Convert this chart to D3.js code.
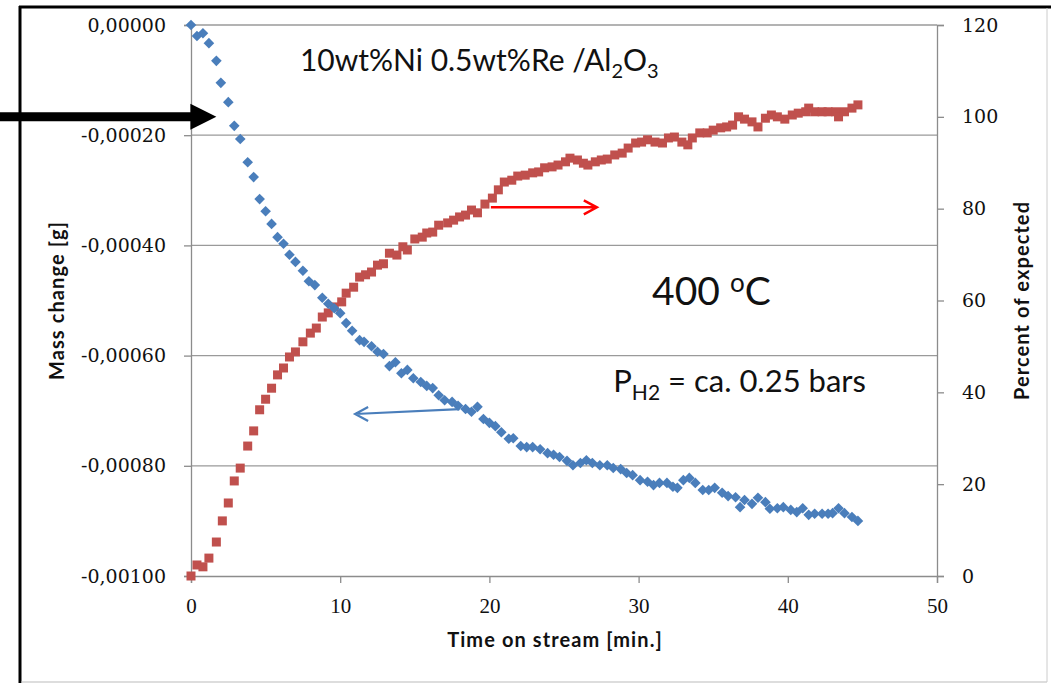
<!DOCTYPE html>
<html>
<head>
<meta charset="utf-8">
<script src="https://cdn.jsdelivr.net/npm/d3@7"></script>
<style>
  html, body { margin: 0; padding: 0; background: #fff; }
  svg { display: block; }
</style>
</head>
<body>
<div id="chart"></div>
<script>
// Mass change (left axis, g) – blue diamonds
const massTime = [0.0, 0.4, 0.8, 1.2, 1.7, 2.0, 2.5, 2.9, 3.3, 3.8, 4.2, 4.6, 5.0, 5.4, 5.8, 6.2, 6.6, 7.0, 7.5, 7.9,
  8.3, 8.8, 9.2, 9.6, 10.0, 10.4, 10.8, 11.3, 11.6, 12.1, 12.5, 12.9, 13.3, 13.7, 14.1, 14.5, 14.9, 15.4, 15.8, 16.2,
  16.6, 17.0, 17.5, 17.9, 18.4, 18.8, 19.2, 19.6, 20.0, 20.4, 20.8, 21.3, 21.6, 22.1, 22.5, 22.9, 23.4, 23.9, 24.3, 24.7,
  25.2, 25.6, 26.1, 26.5, 26.9, 27.4, 27.9, 28.3, 28.8, 29.2, 29.6, 30.1, 30.6, 31.0, 31.4, 31.9, 32.3, 32.6, 33.0, 33.4,
  33.8, 34.3, 34.7, 35.1, 35.6, 36.0, 36.5, 36.8, 37.1, 37.6, 38.0, 38.5, 38.8, 39.3, 39.7, 40.2, 40.6, 41.0, 41.4, 41.8,
  42.3, 42.7, 43.0, 43.4, 43.8, 44.3, 44.7]
const massValues = [0, -0.000020, -0.000015, -0.000033, -0.000065, -0.000105, -0.000140, -0.000183, -0.000207, -0.000249,
  -0.000276, -0.000316, -0.000338, -0.000361, -0.000385, -0.000397, -0.000417, -0.000430, -0.000446, -0.000465,
  -0.000472, -0.000495, -0.000506, -0.000514, -0.000523, -0.000541, -0.000555, -0.000572, -0.000575, -0.000583,
  -0.000593, -0.000597, -0.000619, -0.000612, -0.000632, -0.000626, -0.000641, -0.000648, -0.000655, -0.000659,
  -0.000672, -0.000681, -0.000684, -0.000691, -0.000697, -0.000702, -0.000693, -0.000715, -0.000722, -0.000728,
  -0.000739, -0.000751, -0.000750, -0.000764, -0.000766, -0.000766, -0.000770, -0.000777, -0.000780, -0.000784,
  -0.000791, -0.000799, -0.000795, -0.000790, -0.000795, -0.000799, -0.000799, -0.000804, -0.000806, -0.000813,
  -0.000817, -0.000826, -0.000829, -0.000835, -0.000831, -0.000831, -0.000838, -0.000840, -0.000826, -0.000822,
  -0.000831, -0.000844, -0.000844, -0.000840, -0.000849, -0.000855, -0.000857, -0.000875, -0.000862, -0.000869,
  -0.000858, -0.000866, -0.000878, -0.000877, -0.000875, -0.000880, -0.000884, -0.000877, -0.000889, -0.000887,
  -0.000887, -0.000887, -0.000886, -0.000877, -0.000886, -0.000893, -0.000900]

// Percent of expected (right axis) – red squares
const pctTime = [0.0, 0.4, 0.8, 1.2, 1.7, 2.1, 2.5, 2.9, 3.3, 3.8, 4.2, 4.6, 5.0, 5.4, 5.8, 6.2, 6.6, 7.0, 7.5, 8.0,
  8.4, 8.8, 9.2, 9.6, 10.1, 10.4, 10.9, 11.3, 11.7, 12.1, 12.5, 12.9, 13.3, 13.8, 14.2, 14.5, 15.0, 15.5, 15.8, 16.2,
  16.6, 17.2, 17.6, 18.0, 18.4, 18.8, 19.2, 19.7, 20.2, 20.6, 21.0, 21.5, 21.9, 22.4, 22.9, 23.3, 23.7, 24.2, 24.6, 25.1,
  25.4, 25.9, 26.3, 26.6, 27.1, 27.5, 27.9, 28.4, 28.9, 29.3, 29.8, 30.2, 30.6, 31.1, 31.6, 32.0, 32.4, 32.9, 33.3, 33.6,
  34.1, 34.6, 35.0, 35.5, 35.9, 36.3, 36.7, 37.1, 37.6, 38.0, 38.5, 38.9, 39.3, 39.8, 40.3, 40.7, 41.2, 41.4, 41.8, 42.3,
  42.7, 43.2, 43.4, 43.8, 44.3, 44.7]
const pctValues = [0.0, 2.4, 2.0, 3.9, 7.4, 12.0, 15.9, 20.7, 23.5, 28.3, 31.6, 36.2, 38.5, 40.9, 43.8, 45.3, 47.7, 48.8, 51.0, 52.9,
  54.0, 56.4, 57.3, 58.6, 59.7, 61.6, 62.9, 65.1, 65.6, 66.2, 67.7, 68.0, 70.3, 69.9, 71.7, 71.0, 73.4, 73.8, 74.7, 74.9,
  76.4, 76.9, 77.5, 78.2, 78.6, 79.7, 79.1, 81.0, 82.3, 84.1, 85.8, 86.2, 87.1, 87.3, 87.8, 88.0, 88.9, 89.1, 89.5, 90.2,
  91.0, 90.6, 89.9, 89.5, 90.2, 90.6, 90.8, 91.7, 92.1, 93.2, 94.3, 94.5, 95.0, 94.5, 94.3, 95.4, 95.6, 94.5, 93.9, 95.4,
  96.5, 96.5, 97.1, 97.6, 97.8, 98.2, 100.0, 99.5, 98.9, 97.8, 99.7, 100.4, 100.0, 99.5, 100.4, 100.8, 101.1, 101.9, 101.1, 101.1,
  101.1, 101.1, 100.0, 101.1, 101.9, 102.6]

const xTicks = [0, 10, 20, 30, 40, 50]
const massTicks = [0, -0.0002, -0.0004, -0.0006, -0.0008, -0.0010]
const pctTicks = [0, 20, 40, 60, 80, 100, 120]

const width = 1051
const height = 683
const margin = { top: 25, right: 114, bottom: 107, left: 191 }
const innerW = width - margin.left - margin.right
const innerH = height - margin.top - margin.bottom

const svg = d3.select("#chart").append("svg")
  .attr("width", width).attr("height", height)

// frame of the screenshot
svg.append("line").attr("x1", 20).attr("x2", 20).attr("y1", 6).attr("y2", height)
  .attr("stroke", "#000").attr("stroke-width", 3)
svg.append("line").attr("x1", 19).attr("x2", width).attr("y1", 7).attr("y2", 7)
  .attr("stroke", "#000").attr("stroke-width", 3)
svg.append("line").attr("x1", 21).attr("x2", 1047).attr("y1", 682).attr("y2", 682)
  .attr("stroke", "#bbb").attr("stroke-width", 1)
svg.append("line").attr("x1", 1047).attr("x2", 1047).attr("y1", 8).attr("y2", 682)
  .attr("stroke", "#ccc").attr("stroke-width", 1)

const g = svg.append("g").attr("transform", `translate(${margin.left},${margin.top})`)

const x = d3.scaleLinear().domain([0, 50]).range([0, innerW])
const yMass = d3.scaleLinear().domain([-0.001, 0]).range([innerH, 0])
const yPct = d3.scaleLinear().domain([0, 120]).range([innerH, 0])

const axisGrey = "#8c8c8c"
const fmtMass = v => d3.format(".5f")(v).replace(".", ",").replace("−", "-")

// gridlines
g.append("g").selectAll("line").data(massTicks.filter(d => d !== -0.001)).join("line")
  .attr("x1", 0).attr("x2", innerW)
  .attr("y1", d => yMass(d)).attr("y2", d => yMass(d))
  .attr("stroke", "#9a9a9a").attr("stroke-width", 1.3)

// left axis
g.append("g")
  .call(d3.axisLeft(yMass).tickValues(massTicks).tickFormat(fmtMass).tickSize(7).tickPadding(18))
  .call(a => a.select(".domain").attr("stroke", axisGrey).attr("stroke-width", 1.3))
  .call(a => a.selectAll(".tick line").attr("stroke", axisGrey).attr("stroke-width", 1.3))
  .call(a => a.selectAll(".tick text").attr("font-family", "'DejaVu Serif', serif")
    .attr("font-size", 19).attr("fill", "#111"))

// right axis
g.append("g").attr("transform", `translate(${innerW},0)`)
  .call(d3.axisRight(yPct).tickValues(pctTicks).tickSize(7).tickPadding(18))
  .call(a => a.select(".domain").attr("stroke", axisGrey).attr("stroke-width", 1.3))
  .call(a => a.selectAll(".tick line").attr("stroke", axisGrey).attr("stroke-width", 1.3))
  .call(a => a.selectAll(".tick text").attr("font-family", "'DejaVu Serif', serif")
    .attr("font-size", 19).attr("fill", "#111"))

// bottom axis
g.append("g").attr("transform", `translate(0,${innerH})`)
  .call(d3.axisBottom(x).tickValues(xTicks).tickSize(7).tickPadding(15))
  .call(a => a.select(".domain").attr("stroke", axisGrey).attr("stroke-width", 1.3))
  .call(a => a.selectAll(".tick line").attr("stroke", axisGrey).attr("stroke-width", 1.3))
  .call(a => a.selectAll(".tick text").attr("font-family", "'Liberation Serif', serif")
    .attr("font-size", 21).attr("fill", "#111"))

// axis titles
const boldFont = "Lato, 'Open Sans', sans-serif"
const axisTitle = sel => sel.attr("text-anchor", "middle").attr("font-family", boldFont)
  .attr("font-weight", 700).attr("font-size", 20).attr("letter-spacing", 1.1).attr("fill", "#111")
g.append("text").attr("x", innerW / 2 - 9).attr("y", innerH + 71)
  .call(axisTitle).text("Time on stream [min.]")
g.append("text").attr("transform", "rotate(-90)").attr("x", -(innerH / 2)).attr("y", -127)
  .call(axisTitle).text("Mass change [g]")
g.append("text").attr("transform", "rotate(-90)").attr("x", -(innerH / 2)).attr("y", innerW + 92)
  .call(axisTitle).text("Percent of expected")

// series
const blue = "#4a7ebb"
const red = "#c0504d"
const massData = massTime.map((t, i) => ({ t, v: massValues[i] }))
const pctData = pctTime.map((t, i) => ({ t, v: pctValues[i] }))

g.append("g").selectAll("rect").data(pctData).join("rect")
  .attr("x", d => x(d.t) - 4.5).attr("y", d => yPct(d.v) - 4.5)
  .attr("width", 9).attr("height", 9).attr("fill", red)

g.append("g").selectAll("path").data(massData).join("path")
  .attr("d", d3.symbol(d3.symbolDiamond2, 72))
  .attr("transform", d => `translate(${x(d.t)},${yMass(d.v)})`)
  .attr("fill", blue)

// annotations
const textFont = "Lato, 'Open Sans', sans-serif"
const title = g.append("text").attr("x", x(7.3)).attr("y", yPct(109.9))
  .attr("font-family", textFont).attr("font-size", 30).attr("fill", "#111")
title.append("tspan").text("10wt%Ni 0.5wt%Re /Al")
title.append("tspan").attr("font-size", 20).attr("dy", 7).text("2")
title.append("tspan").attr("font-size", 30).attr("dy", -7).text("O")
title.append("tspan").attr("font-size", 20).attr("dy", 7).text("3")

const temp = g.append("text").attr("x", x(30.9)).attr("y", yPct(59))
  .attr("font-family", textFont).attr("font-size", 39).attr("fill", "#111")
temp.append("tspan").text("400 ")
temp.append("tspan").attr("font-size", 26).attr("dy", -13).text("o")
temp.append("tspan").attr("font-size", 39).attr("dy", 13).text("C")

const press = g.append("text").attr("x", x(28.3)).attr("y", yPct(40.1))
  .attr("font-family", textFont).attr("font-size", 31).attr("fill", "#111")
press.append("tspan").text("P")
press.append("tspan").attr("font-size", 21).attr("dy", 8).text("H2")
press.append("tspan").attr("font-size", 31).attr("dy", -8).text(" = ca. 0.25 bars")

// red arrow -> right axis
const redArrow = { x1: 20.1, x2: 27.2, y: 80.3 }
g.append("path")
  .attr("d", `M${x(redArrow.x1)},${yPct(redArrow.y)}H${x(redArrow.x2)}` +
    `M${x(redArrow.x2) - 13},${yPct(redArrow.y) - 7}L${x(redArrow.x2)},${yPct(redArrow.y)}L${x(redArrow.x2) - 13},${yPct(redArrow.y) + 7}`)
  .attr("fill", "none").attr("stroke", "#ff0000").attr("stroke-width", 2.5)

// blue arrow <- left axis
const blueArrow = { x1: 18.0, y1: -0.000697, x2: 11.0, y2: -0.000706 }
g.append("path")
  .attr("d", `M${x(blueArrow.x1)},${yMass(blueArrow.y1)}L${x(blueArrow.x2)},${yMass(blueArrow.y2)}` +
    `M${x(blueArrow.x2) + 13},${yMass(blueArrow.y2) - 7}L${x(blueArrow.x2)},${yMass(blueArrow.y2)}L${x(blueArrow.x2) + 13},${yMass(blueArrow.y2) + 7}`)
  .attr("fill", "none").attr("stroke", blue).attr("stroke-width", 2.2)

// black arrow pointing at the 100 % level
const blackY = margin.top + yPct(100)
const tipX = margin.left + x(1.7)
svg.append("path")
  .attr("d", `M0,${blackY - 4.5}H${tipX - 26}V${blackY - 13}L${tipX},${blackY}L${tipX - 26},${blackY + 13}V${blackY + 4.5}H0Z`)
  .attr("fill", "#000")
</script>
</body>
</html>
